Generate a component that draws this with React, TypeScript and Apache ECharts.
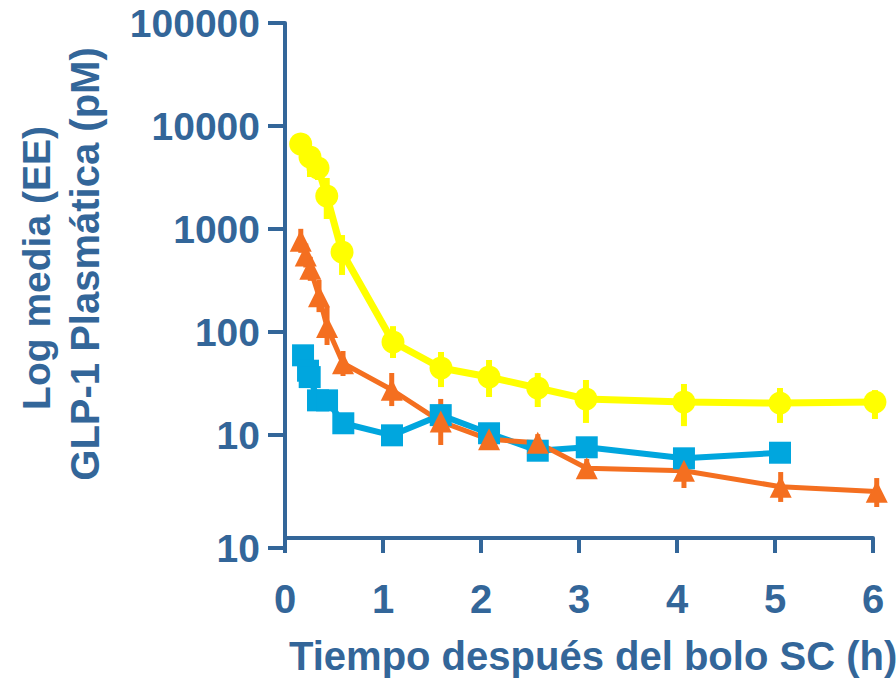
import React, { useEffect, useRef } from "react";
import * as echarts from "echarts";

// Time after SC bolus (h)
const yellowT = [0.16, 0.255, 0.337, 0.426, 0.582, 1.102, 1.592, 2.082, 2.579, 3.071, 4.071, 5.051, 6.02];
const yellowV = [6690, 5000, 3910, 2090, 598, 80, 44.7, 36.6, 28.6, 22.4, 20.9, 20.4, 20.9];
const yellowHi = [8360, 6250, 5110, 3130, 874, 114, 64, 53.5, 40, 34.2, 31.3, 28.6, 27.3];
const yellowLo = [5350, 3200, 2990, 1250, 358, 55.9, 29.2, 23.4, 18.7, 13.1, 12.2, 13.1, 14.3];

const orangeT = [0.161, 0.212, 0.258, 0.347, 0.429, 0.592, 1.089, 1.589, 2.082, 2.579, 3.079, 4.071, 5.058, 6.038];
const orangeV = [768, 553, 411, 222, 112, 49.7, 27.5, 13.5, 9.08, 8.42, 4.75, 4.5, 3.15, 2.82];
const orangeHi = [1004, 723, 537, 320, 175, 65.4, 40, 22.4, 10.9, 10.2, 5.85, 6.4, 4.37, 3.82];
const orangeLo = [587, 423, 314, 156, 74.8, 37.4, 19.1, 8.0, 7.6, 7.0, 3.91, 3.06, 2.24, 2.0];

const cyanT = [0.184, 0.235, 0.252, 0.337, 0.429, 0.595, 1.092, 1.589, 2.082, 2.579, 3.079, 4.071, 5.051];
const cyanV = [59.4, 42.1, 36.5, 21.7, 21.7, 13.0, 9.93, 15.6, 10.4, 7.04, 7.6, 5.94, 6.73];

const yTickValues = [0.8, 10, 100, 1000, 10000, 100000];
const yTickLabels = ["10", "10", "100", "1000", "10000", "100000"];
const xTickLabels = ["0", "1", "2", "3", "4", "5", "6"];

const xTitle = "Tiempo después del bolo SC (h)";
const yTitle1 = "Log media (EE)";
const yTitle2 = "GLP-1 Plasmática (pM)";

const AXIS = "#336699";
const YELLOW = "#ffff00";
const ORANGE = "#f46f20";
const CYAN = "#00a6de";
const FONT = '"Liberation Sans", Arial, sans-serif';

const lg = (v: number) => Math.log10(v);

function errSeries(ts: number[], lo: number[], hi: number[], color: string, width: number) {
  return {
    type: "custom",
    clip: false,
    silent: true,
    encode: { x: 0, y: [1, 2] },
    data: ts.map((t, i) => [t, lg(lo[i]), lg(hi[i])]),
    renderItem: (params: any, api: any) => {
      const p1 = api.coord([api.value(0), api.value(1)]);
      const p2 = api.coord([api.value(0), api.value(2)]);
      return {
        type: "line",
        shape: { x1: p1[0], y1: p1[1], x2: p2[0], y2: p2[1] },
        style: { stroke: color, lineWidth: width },
      };
    },
  };
}

export default function App() {
  const ref = useRef<HTMLDivElement>(null);
  useEffect(() => {
    if (!ref.current) return;
    const chart = echarts.init(ref.current, null, { renderer: "svg" });
    const yMin = lg(yTickValues[0]);
    const yCustom = yTickValues.map((v) => lg(v));
    chart.setOption({
      animation: false,
      grid: { left: 285, right: 23, top: 23, bottom: 132 },
      xAxis: {
        type: "value",
        min: 0,
        max: 6,
        interval: 1,
        splitLine: { show: false },
        axisLine: { show: true, lineStyle: { color: AXIS, width: 4 } },
        axisTick: { show: true, length: 15, lineStyle: { color: AXIS, width: 4 } },
        axisLabel: {
          margin: 31,
          color: AXIS,
          fontSize: 40,
          fontWeight: "bold",
          fontFamily: FONT,
          formatter: (v: number) => xTickLabels[Math.round(v)] ?? "",
        },
      },
      yAxis: {
        type: "value",
        min: yMin,
        max: 5,
        splitLine: { show: false },
        axisLine: { show: true, lineStyle: { color: AXIS, width: 4 } },
        axisTick: { show: true, length: 17, customValues: yCustom, lineStyle: { color: AXIS, width: 4 } },
        axisLabel: {
          margin: 25,
          color: AXIS,
          fontSize: 39,
          fontWeight: "bold",
          fontFamily: FONT,
          customValues: yCustom,
          formatter: (v: number) => {
            const i = yCustom.findIndex((c) => Math.abs(c - v) < 1e-6);
            return i >= 0 ? yTickLabels[i] : "";
          },
        },
      },
      graphic: [
        {
          type: "text",
          x: 289,
          y: 656,
          style: {
            text: xTitle,
            font: `bold 40px ${FONT}`,
            fill: AXIS,
            textAlign: "left",
            align: "left",
            textVerticalAlign: "middle",
            verticalAlign: "middle",
          },
        },
        {
          type: "text",
          x: 36,
          y: 268,
          rotation: Math.PI / 2,
          style: {
            text: yTitle1,
            font: `bold 39px ${FONT}`,
            fill: AXIS,
            textAlign: "center",
            align: "center",
            textVerticalAlign: "middle",
            verticalAlign: "middle",
          },
        },
        {
          type: "text",
          x: 85,
          y: 264,
          rotation: Math.PI / 2,
          style: {
            text: yTitle2,
            font: `bold 40px ${FONT}`,
            fill: AXIS,
            textAlign: "center",
            align: "center",
            textVerticalAlign: "middle",
            verticalAlign: "middle",
          },
        },
      ],
      series: [
        {
          type: "line",
          clip: false,
          data: cyanT.map((t, i) => [t, lg(cyanV[i])]),
          symbol: "rect",
          symbolSize: 22,
          lineStyle: { color: CYAN, width: 6 },
          itemStyle: { color: CYAN },
        },
        errSeries(orangeT, orangeLo, orangeHi, ORANGE, 5),
        {
          type: "line",
          clip: false,
          data: orangeT.map((t, i) => [t, lg(orangeV[i])]),
          symbol: "triangle",
          symbolSize: 22,
          lineStyle: { color: ORANGE, width: 5 },
          itemStyle: { color: ORANGE },
        },
        errSeries(yellowT, yellowLo, yellowHi, YELLOW, 6),
        {
          type: "line",
          clip: false,
          data: yellowT.map((t, i) => [t, lg(yellowV[i])]),
          symbol: "circle",
          symbolSize: 23,
          lineStyle: { color: YELLOW, width: 7 },
          itemStyle: { color: YELLOW },
        },
      ],
    });
    return () => chart.dispose();
  }, []);
  return (
    <div
      ref={ref}
      style={{ position: "fixed", left: 0, top: 0, width: 896, height: 680, background: "#ffffff" }}
    />
  );
}
